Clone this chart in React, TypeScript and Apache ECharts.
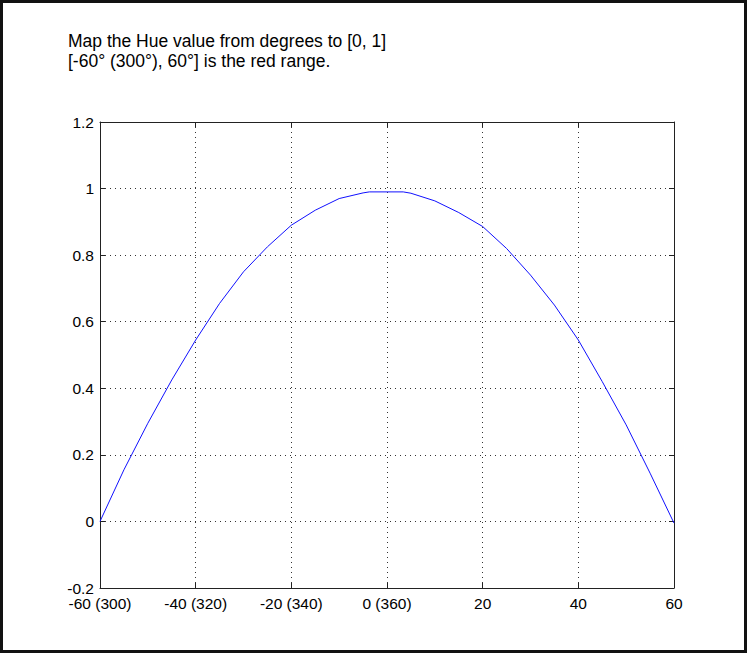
import React, { useEffect, useRef } from "react";
import * as echarts from "echarts";

const titleLines = ["Map the Hue value from degrees to [0, 1]", "[-60° (300°), 60°] is the red range."];
const xTickValues = [-60, -40, -20, 0, 20, 40, 60];
const xTickLabels = ["-60 (300)", "-40 (320)", "-20 (340)", "0 (360)", "20", "40", "60"];
const yTickLabels = ["-0.2", "0", "0.2", "0.4", "0.6", "0.8", "1", "1.2"];
const hueDegrees = [-60, -55, -50, -45, -40, -35, -30, -25, -20, -15, -10, -5, -3.7, 3.4, 5, 10, 15, 20, 25, 30, 35, 40, 45, 50, 55, 60];
const hueValues = [0, 0.155, 0.295, 0.425, 0.545, 0.655, 0.75, 0.825, 0.89, 0.935, 0.97, 0.987, 0.99, 0.99, 0.986, 0.963, 0.928, 0.886, 0.82, 0.74, 0.65, 0.545, 0.42, 0.29, 0.145, -0.005];

const FONT = "'Liberation Sans', Arial, Helvetica, sans-serif";

export default function App() {
  const ref = useRef<HTMLDivElement>(null);
  useEffect(() => {
    if (!ref.current) return;
    const chart = echarts.init(ref.current, undefined, { renderer: "svg" });
    const axisColor = "#222";
    const gridLine = { show: true, lineStyle: { color: "#333", width: 1, type: [1, 4] as any } };
    const xLabel = (v: number) => {
      const i = xTickValues.indexOf(Math.round(v));
      return i >= 0 ? xTickLabels[i] : "";
    };
    const yLabel = (v: number) => {
      const i = Math.round((v + 0.2) / 0.2);
      return yTickLabels[i] ?? "";
    };
    chart.setOption({
      animation: false,
      backgroundColor: "#fff",
      grid: { left: 100, top: 122, width: 574, height: 466, containLabel: false },
      xAxis: [
        {
          type: "value", min: -60, max: 60, interval: 20, position: "bottom",
          axisLine: { show: true, onZero: false, lineStyle: { color: axisColor, width: 1 } },
          axisTick: { show: true, inside: true, length: 5, lineStyle: { color: axisColor } },
          axisLabel: { show: true, margin: 7, color: "#000", fontSize: 15.5, fontFamily: FONT, formatter: xLabel },
          splitLine: gridLine,
        },
        {
          type: "value", min: -60, max: 60, interval: 20, position: "top",
          axisLine: { show: true, onZero: false, lineStyle: { color: axisColor, width: 1 } },
          axisTick: { show: true, inside: true, length: 5, lineStyle: { color: axisColor } },
          axisLabel: { show: false },
          splitLine: { show: false },
        },
      ],
      yAxis: [
        {
          type: "value", min: -0.2, max: 1.2, interval: 0.2, position: "left",
          axisLine: { show: true, onZero: false, lineStyle: { color: axisColor, width: 1 } },
          axisTick: { show: true, inside: true, length: 5, lineStyle: { color: axisColor } },
          axisLabel: { show: true, margin: 6, color: "#000", fontSize: 15.5, fontFamily: FONT, formatter: yLabel },
          splitLine: gridLine,
        },
        {
          type: "value", min: -0.2, max: 1.2, interval: 0.2, position: "right",
          axisLine: { show: true, onZero: false, lineStyle: { color: axisColor, width: 1 } },
          axisTick: { show: true, inside: true, length: 5, lineStyle: { color: axisColor } },
          axisLabel: { show: false },
          splitLine: { show: false },
        },
      ],
      series: [
        {
          type: "line",
          xAxisIndex: 0,
          yAxisIndex: 0,
          data: hueDegrees.map((d, i) => [d, hueValues[i]]),
          showSymbol: false,
          symbol: "none",
          smooth: false,
          lineStyle: { color: "#1010ff", width: 1 },
          clip: false,
        },
      ],
      graphic: [
        {
          type: "rect",
          shape: { x: 1.5, y: 1.5, width: 744, height: 650 },
          style: { fill: "none", stroke: "#111", lineWidth: 3 },
          silent: true,
        },
        {
          type: "text", x: 68, y: 40.6,
          style: { text: titleLines[0], fill: "#000", font: `17.5px ${FONT}`, verticalAlign: "middle", align: "left" },
        },
        {
          type: "text", x: 68, y: 60.6,
          style: { text: titleLines[1], fill: "#000", font: `17.5px ${FONT}`, verticalAlign: "middle", align: "left" },
        },
      ],
    });
    return () => chart.dispose();
  }, []);
  return <div ref={ref} style={{ position: "fixed", left: 0, top: 0, width: 747, height: 653 }} />;
}
